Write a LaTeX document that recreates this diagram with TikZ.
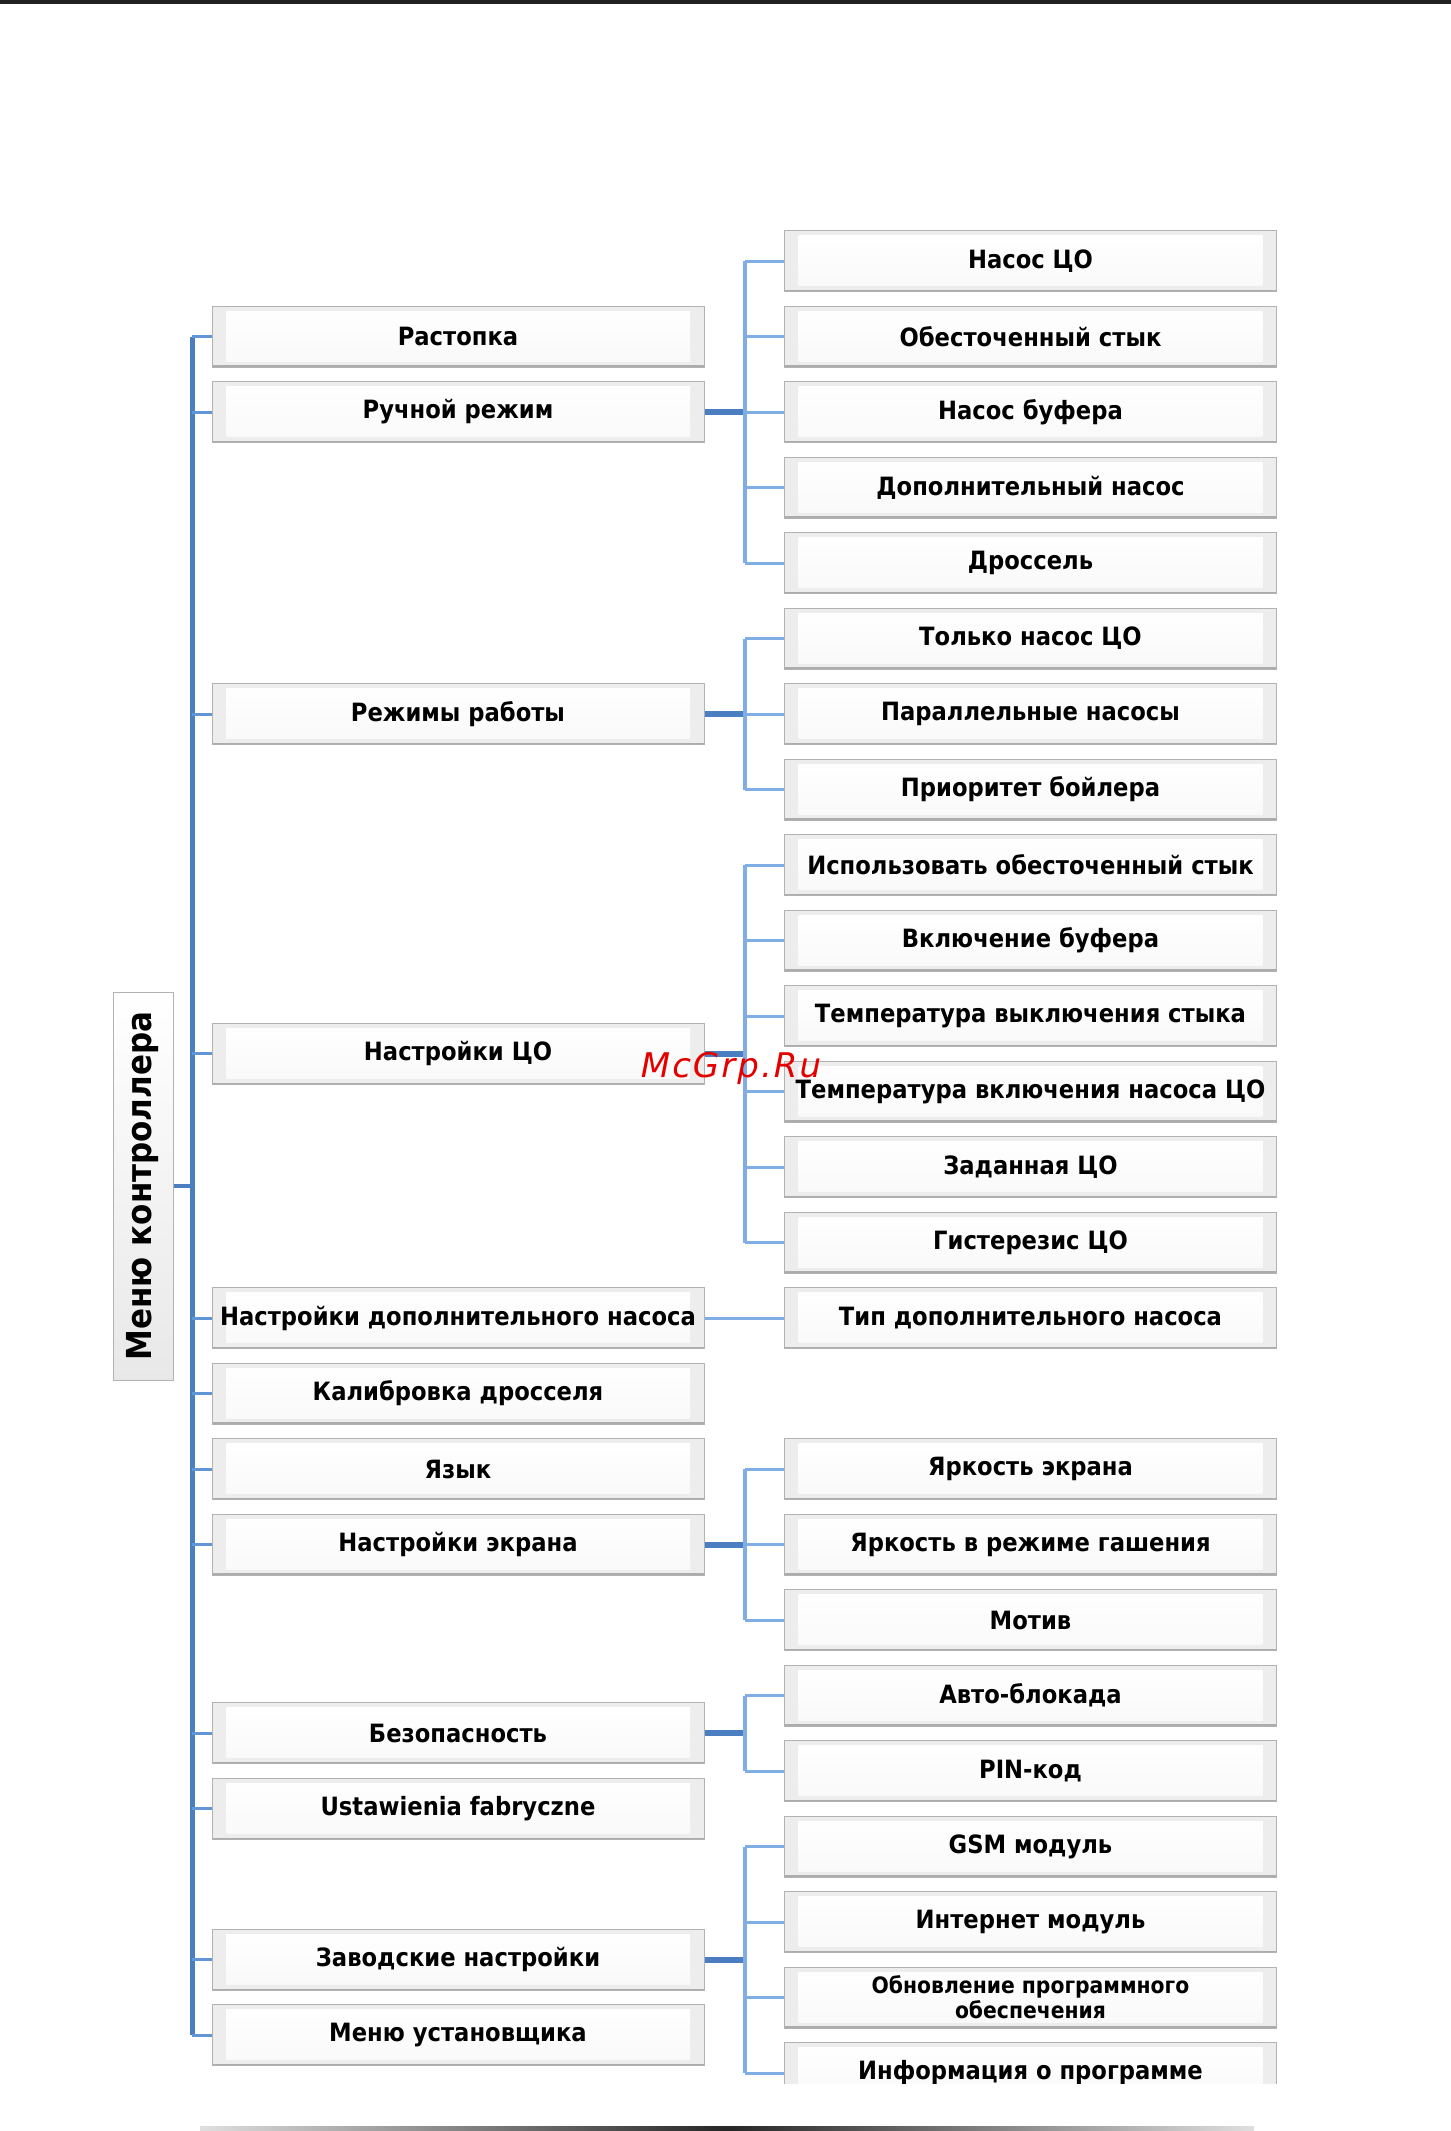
\documentclass[tikz,border=0pt]{standalone}
\usepackage{fontspec}
\setmainfont{DejaVu Sans}[FakeStretch=0.9]
\newfontfamily\wmfont{DejaVu Sans}[LetterSpace=6]
\definecolor{bdark}{RGB}{74,126,193}
\definecolor{bmid}{RGB}{96,150,214}
\definecolor{blight}{RGB}{128,174,228}
\newcommand\btnfont{\fontsize{12.6pt}{14pt}\selectfont\bfseries}
\newcommand\smallbtnfont{\fontsize{11.3pt}{12.5pt}\selectfont\bfseries}
\tikzset{
  btn/.style={rectangle, inner sep=0pt, minimum width=246pt, minimum height=30.5pt,
    font=\btnfont, align=center, fill=gray!14, draw=gray!60, line width=0.5pt,
    path picture={
      \shade[top color=white, bottom color=gray!5]
        ([xshift=7pt,yshift=-2.5pt]path picture bounding box.north west) rectangle
        ([xshift=-7pt,yshift=3pt]path picture bounding box.south east);
      \draw[gray!65, line width=1.6pt]
        (path picture bounding box.south west) -- (path picture bounding box.south east);
    }},
  rootbox/.style={rectangle, inner sep=0pt, minimum width=194pt, minimum height=30pt,
    rotate=90, font=\fontsize{17.2pt}{19pt}\selectfont\bfseries,
    draw=gray!60, line width=0.5pt, top color=white, bottom color=gray!18},
  trunkL/.style={bdark, line width=2.5pt},
  stubL/.style={bmid, line width=1.5pt},
  rootc/.style={bdark, line width=2pt},
  thicklink/.style={bdark, line width=3pt},
  trunkR/.style={blight, line width=2pt},
  stubR/.style={blight, line width=1.5pt},
}
\begin{document}
\begin{tikzpicture}[x=0.5pt,y=-0.5pt]
\useasboundingbox (0,0) rectangle (1451,2131);
\fill[black!87] (0,0) rectangle (1451,4);
\begin{scope}
\clip (0,0) rectangle (1451,2083);
\coordinate (T) at (192,0);
\coordinate (R) at (745,0);
% root
\node[rootbox] (root) at (143,1186) {Меню контроллера};
% left column
\node[btn] (rast) at (458,336.5) {Растопка};
\node[btn] (ruch) at (458,412) {Ручной режим};
\node[btn] (rezh) at (458,714) {Режимы работы};
\node[btn] (nco) at (458,1053.75) {Настройки ЦО};
\node[btn] (ndop) at (458,1318) {Настройки дополнительного насоса};
\node[btn] (kalib) at (458,1393.5) {Калибровка дросселя};
\node[btn] (yaz) at (458,1469) {Язык};
\node[btn] (ekr) at (458,1544.5) {Настройки экрана};
\node[btn] (bez) at (458,1733.25) {Безопасность};
\node[btn] (ustf) at (458,1808.75) {Ustawienia fabryczne};
\node[btn] (zav) at (458,1959.75) {Заводские настройки};
\node[btn] (mus) at (458,2035.25) {Меню установщика};
% right column
\node[btn] (r0) at (1030.5,261) {Насос ЦО};
\node[btn] (r1) at (1030.5,336.5) {Обесточенный стык};
\node[btn] (r2) at (1030.5,412) {Насос буфера};
\node[btn] (r3) at (1030.5,487.5) {Дополнительный насос};
\node[btn] (r4) at (1030.5,563) {Дроссель};
\node[btn] (r5) at (1030.5,638.5) {Только насос ЦО};
\node[btn] (r6) at (1030.5,714) {Параллельные насосы};
\node[btn] (r7) at (1030.5,789.5) {Приоритет бойлера};
\node[btn] (r8) at (1030.5,865) {Использовать обесточенный стык};
\node[btn] (r9) at (1030.5,940.5) {Включение буфера};
\node[btn] (r10) at (1030.5,1016) {Температура выключения стыка};
\node[btn] (r11) at (1030.5,1091.5) {Температура включения насоса ЦО};
\node[btn] (r12) at (1030.5,1167) {Заданная ЦО};
\node[btn] (r13) at (1030.5,1242.5) {Гистерезис ЦО};
\node[btn] (r14) at (1030.5,1318) {Тип дополнительного насоса};
\node[btn] (r16) at (1030.5,1469) {Яркость экрана};
\node[btn] (r17) at (1030.5,1544.5) {Яркость в режиме гашения};
\node[btn] (r18) at (1030.5,1620) {Мотив};
\node[btn] (r19) at (1030.5,1695.5) {Авто-блокада};
\node[btn] (r20) at (1030.5,1771) {PIN-код};
\node[btn] (r21) at (1030.5,1846.5) {GSM модуль};
\node[btn] (r22) at (1030.5,1922) {Интернет модуль};
\node[btn, font=\smallbtnfont] (r23) at (1030.5,1997.5) {Обновление программного\\обеспечения};
\node[btn] (r24) at (1030.5,2073) {Информация о программе};
% main trunk
\draw[trunkL] (rast.west -| T) -- (mus.west -| T);
\draw[rootc] (root.south) -- (root.south -| T);
\foreach \n in {rast,ruch,rezh,nco,ndop,kalib,yaz,ekr,bez,ustf,zav,mus}
  \draw[stubL] (\n.west -| T) -- (\n.west);
% groups
\draw[thicklink] (ruch.east) -- (ruch.east -| R);
\draw[trunkR] (r0.west -| R) -- (r4.west -| R);
\foreach \c in {r0,r1,r2,r3,r4} \draw[stubR] (\c.west -| R) -- (\c.west);
\draw[thicklink] (rezh.east) -- (rezh.east -| R);
\draw[trunkR] (r5.west -| R) -- (r7.west -| R);
\foreach \c in {r5,r6,r7} \draw[stubR] (\c.west -| R) -- (\c.west);
\draw[thicklink] (nco.east) -- (nco.east -| R);
\draw[trunkR] (r8.west -| R) -- (r13.west -| R);
\foreach \c in {r8,r9,r10,r11,r12,r13} \draw[stubR] (\c.west -| R) -- (\c.west);
\draw[stubR] (ndop.east) -- (r14.west);
\draw[thicklink] (ekr.east) -- (ekr.east -| R);
\draw[trunkR] (r16.west -| R) -- (r18.west -| R);
\foreach \c in {r16,r17,r18} \draw[stubR] (\c.west -| R) -- (\c.west);
\draw[thicklink] (bez.east) -- (bez.east -| R);
\draw[trunkR] (r19.west -| R) -- (r20.west -| R);
\foreach \c in {r19,r20} \draw[stubR] (\c.west -| R) -- (\c.west);
\draw[thicklink] (zav.east) -- (zav.east -| R);
\draw[trunkR] (r21.west -| R) -- (r24.west -| R);
\foreach \c in {r21,r22,r23,r24} \draw[stubR] (\c.west -| R) -- (\c.west);
\end{scope}
% watermark
\node[text=red!90!black, font=\wmfont\fontsize{17pt}{19pt}\selectfont\itshape, inner sep=0pt] (wm) at (731,1068) {McGrp.Ru};
% bottom bar
\shade[left color=gray!25, right color=gray!25, middle color=black!85] (200,2126) rectangle (1254,2131);
\end{tikzpicture}
\end{document}
